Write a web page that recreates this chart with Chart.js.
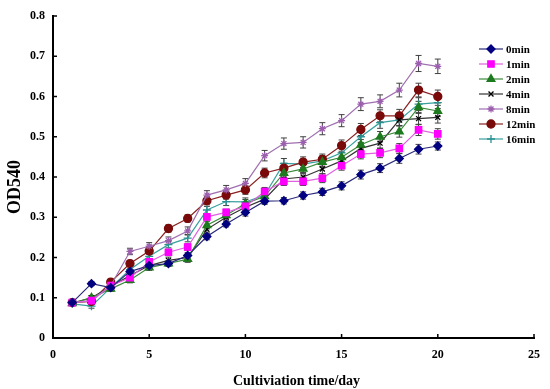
<!DOCTYPE html>
<html>
<head>
<meta charset="utf-8">
<script src="https://cdn.jsdelivr.net/npm/chart.js@4.4.0/dist/chart.umd.min.js"></script>
<style>
  html, body { margin: 0; padding: 0; background: #fff; }
  #wrap { width: 550px; height: 389px; position: relative; }
</style>
</head>
<body>
<div id="wrap"><canvas id="myChart"></canvas></div>
<script>
// days of cultivation
var days = [1,2,3,4,5,6,7,8,9,10,11,12,13,14,15,16,17,18,19,20];

// OD540 per treatment time
var m0  = [0.088,0.135,0.125,0.165,0.180,0.185,0.205,0.252,0.283,0.312,0.340,0.341,0.354,0.363,0.378,0.406,0.422,0.446,0.469,0.477];
var m1  = [0.088,0.093,0.130,0.150,0.189,0.213,0.226,0.301,0.312,0.327,0.364,0.389,0.389,0.397,0.428,0.457,0.460,0.471,0.517,0.507];
var m2  = [0.086,0.100,0.122,0.144,0.175,0.185,0.196,0.280,0.305,0.334,0.352,0.410,0.420,0.437,0.449,0.480,0.500,0.513,0.573,0.564];
var m4  = [0.087,0.100,0.128,0.155,0.180,0.193,0.200,0.270,0.300,0.325,0.345,0.395,0.400,0.420,0.440,0.471,0.484,0.542,0.545,0.548];
var m8  = [0.088,0.092,0.130,0.215,0.228,0.242,0.266,0.355,0.368,0.384,0.453,0.483,0.486,0.520,0.540,0.581,0.588,0.616,0.682,0.675];
var m12 = [0.088,0.091,0.139,0.185,0.216,0.272,0.297,0.341,0.355,0.368,0.410,0.422,0.437,0.444,0.478,0.518,0.552,0.552,0.616,0.600];
var m16 = [0.085,0.079,0.125,0.170,0.203,0.232,0.248,0.318,0.339,0.338,0.355,0.434,0.432,0.440,0.460,0.500,0.535,0.542,0.581,0.585];

// error bar half widths
var e0  = [0.004,0.005,0.005,0.007,0.006,0.006,0.007,0.008,0.007,0.009,0.008,0.008,0.009,0.009,0.010,0.011,0.011,0.012,0.012,0.010];
var e1  = [0.004,0.005,0.006,0.007,0.007,0.007,0.008,0.008,0.008,0.009,0.010,0.010,0.010,0.011,0.011,0.012,0.012,0.012,0.014,0.013];
var e2  = [0.004,0.005,0.006,0.007,0.007,0.007,0.008,0.009,0.009,0.010,0.010,0.011,0.011,0.012,0.012,0.013,0.013,0.014,0.015,0.014];
var e4  = [0.004,0.005,0.006,0.007,0.007,0.008,0.008,0.009,0.009,0.010,0.010,0.011,0.011,0.012,0.012,0.013,0.013,0.014,0.015,0.014];
var e8  = [0.004,0.006,0.007,0.008,0.009,0.009,0.010,0.011,0.011,0.012,0.013,0.014,0.014,0.015,0.015,0.016,0.016,0.017,0.020,0.018];
var e12 = [0.004,0.005,0.007,0.008,0.008,0.009,0.009,0.010,0.010,0.011,0.012,0.012,0.013,0.013,0.014,0.015,0.015,0.016,0.017,0.016];
var e16 = [0.004,0.005,0.006,0.007,0.008,0.008,0.009,0.009,0.010,0.010,0.011,0.012,0.012,0.013,0.013,0.014,0.014,0.015,0.016,0.015];

var names = ['0min','1min','2min','4min','8min','12min','16min'];

function pts(vals){
    return vals.map(function(v,i){ return {x: days[i], y: v}; });
}

var serif = '"Liberation Serif", "Times New Roman", serif';

var sets = [
  {label:names[0], data:pts(m0),  err:e0,  borderColor:'#2a2a7a', backgroundColor:'#000080', pointStyle:'rectRot', pointRadius:4},
  {label:names[1], data:pts(m1),  err:e1,  borderColor:'#e060e0', backgroundColor:'#ff00ff', pointStyle:'rect', pointRadius:4.5},
  {label:names[2], data:pts(m2),  err:e2,  borderColor:'#3a8a3a', backgroundColor:'#1e7a1e', pointStyle:'triangle', pointRadius:4.5},
  {label:names[3], data:pts(m4),  err:e4,  borderColor:'#333333', backgroundColor:'#000000', pointStyle:'crossRot', pointRadius:3.5},
  {label:names[4], data:pts(m8),  err:e8,  borderColor:'#a070b0', backgroundColor:'#9c5fae', pointStyle:'star', pointRadius:3.5},
  {label:names[5], data:pts(m12), err:e12, borderColor:'#8a2020', backgroundColor:'#7a0a0a', pointStyle:'circle', pointRadius:4},
  {label:names[6], data:pts(m16), err:e16, borderColor:'#3aa0a0', backgroundColor:'#2a9090', pointStyle:'cross', pointRadius:4}
];
sets.forEach(function(s){
    s.borderWidth = 1.2;
    s.pointBorderColor = s.backgroundColor;
    s.pointBackgroundColor = s.backgroundColor;
    s.pointBorderWidth = 1.3;
    s.tension = 0;
});

var errBars = {
  id: 'errBars',
  beforeDatasetsDraw: function(chart){
    var c = chart.ctx, ys = chart.scales.y;
    c.save();
    c.strokeStyle = '#404040';
    c.lineWidth = 1;
    chart.data.datasets.forEach(function(ds, di){
      var meta = chart.getDatasetMeta(di);
      meta.data.forEach(function(p, i){
        var v = ds.data[i].y, e = ds.err[i];
        var top = ys.getPixelForValue(v + e), bot = ys.getPixelForValue(v - e);
        c.beginPath();
        c.moveTo(p.x, top); c.lineTo(p.x, bot);
        c.moveTo(p.x - 3, top); c.lineTo(p.x + 3, top);
        c.moveTo(p.x - 3, bot); c.lineTo(p.x + 3, bot);
        c.stroke();
      });
    });
    c.restore();
  }
};

var decor = {
  id: 'decor',
  afterDraw: function(chart){
    var c = chart.ctx, xs = chart.scales.x, ys = chart.scales.y, a = chart.chartArea;
    c.save();
    // inward ticks
    c.strokeStyle = '#000';
    c.lineWidth = 1.5;
    xs.ticks.forEach(function(t){
      var px = xs.getPixelForValue(t.value);
      c.beginPath(); c.moveTo(px, a.bottom); c.lineTo(px, a.bottom - 4); c.stroke();
    });
    ys.ticks.forEach(function(t){
      var py = ys.getPixelForValue(t.value);
      c.beginPath(); c.moveTo(a.left, py); c.lineTo(a.left + 4, py); c.stroke();
    });
    // axis titles
    c.fillStyle = '#000';
    c.font = 'bold 14px ' + serif;
    c.textAlign = 'center';
    c.textBaseline = 'middle';
    c.fillText('Cultiviation time/day', (a.left + a.right) / 2 + 3, 381);
    c.translate(15, 187);
    c.rotate(-Math.PI / 2);
    c.font = 'bold 18px ' + serif;
    c.fillText('OD540', 0, 0);
    c.setTransform(1, 0, 0, 1, 0, 0);
    // legend
    c.font = 'bold 11px ' + serif;
    c.textAlign = 'left';
    chart.data.datasets.forEach(function(ds, i){
      var y = 49 + i * 15;
      c.strokeStyle = ds.borderColor;
      c.lineWidth = 1.2;
      c.beginPath(); c.moveTo(479, y); c.lineTo(503, y); c.stroke();
      c.fillStyle = ds.backgroundColor;
      c.strokeStyle = ds.backgroundColor;
      c.lineWidth = 1.3;
      Chart.helpers.drawPoint(c, {pointStyle: ds.pointStyle, radius: ds.pointRadius, borderWidth: 1.3, rotation: 0}, 491, y);
      c.fillStyle = '#000';
      c.fillText(ds.label, 506, y + 1);
    });
    c.restore();
  }
};

var ctx = document.getElementById('myChart').getContext('2d');
var chart = new Chart(ctx, {
    type: 'line',
    data: { datasets: sets },
    options: {
        responsive: true,
        maintainAspectRatio: false,
        animation: false,
        layout: { padding: { left: 0, right: 10, top: 16, bottom: 0 } },
        plugins: { legend: { display: false }, tooltip: { enabled: false } },
        scales: {
            x: {
                type: 'linear', min: 0, max: 25,
                ticks: { stepSize: 5, padding: 10, color: '#000', font: { family: serif, size: 12, weight: 'bold' } },
                grid: { drawOnChartArea: false, drawTicks: false },
                border: { color: '#000', width: 2 },
                afterFit: function(s){ s.height = 51; }
            },
            y: {
                min: 0, max: 0.8,
                ticks: { stepSize: 0.1, padding: 8, color: '#000', font: { family: serif, size: 12, weight: 'bold' },
                         callback: function(v){ return v === 0 ? '0' : v.toFixed(1); } },
                grid: { drawOnChartArea: false, drawTicks: false },
                border: { color: '#000', width: 2 },
                afterFit: function(s){ s.width = 53; }
            }
        }
    },
    plugins: [errBars, decor]
});
</script>
</body>
</html>
